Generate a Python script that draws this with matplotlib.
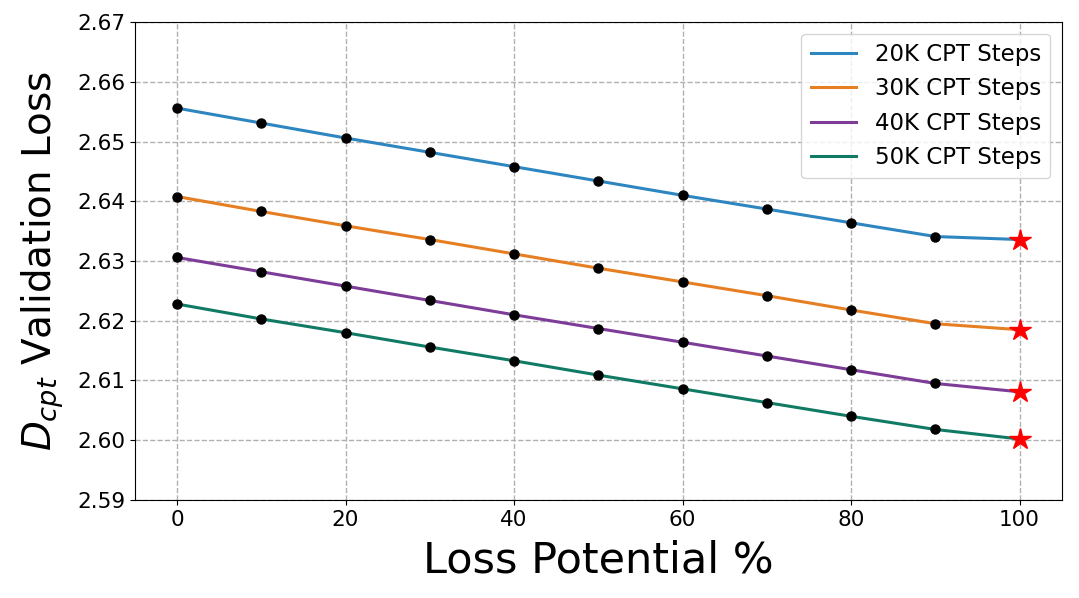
import matplotlib
matplotlib.use("Agg")
import matplotlib.pyplot as plt

# Loss potential (%) on the x axis
potential = [0, 10, 20, 30, 40, 50, 60, 70, 80, 90, 100]

# validation loss per CPT run
loss_20k = [2.6556, 2.6531, 2.6506, 2.6482, 2.6458, 2.6434, 2.6410, 2.6387, 2.6364, 2.6341, 2.6336]
loss_30k = [2.6408, 2.6383, 2.6359, 2.6336, 2.6312, 2.6288, 2.6265, 2.6242, 2.6218, 2.6195, 2.6185]
loss_40k = [2.6306, 2.6282, 2.6258, 2.6234, 2.6210, 2.6187, 2.6164, 2.6141, 2.6118, 2.6095, 2.6081]
loss_50k = [2.6228, 2.6203, 2.6180, 2.6156, 2.6133, 2.6109, 2.6086, 2.6063, 2.6040, 2.6018, 2.6002]

labels = ['20K CPT Steps', '30K CPT Steps', '40K CPT Steps', '50K CPT Steps']
colors = ['#2E86C1', '#E67E22', '#7D3C98', '#117A65']

fig = plt.figure(figsize=(10.79, 5.98), dpi=100)
ax = fig.add_axes([0.125, 0.164, 0.859, 0.799])

for loss, label, color in zip([loss_20k, loss_30k, loss_40k, loss_50k], labels, colors):
    ax.plot(potential, loss, color=color, linewidth=2.2, label=label, zorder=2)
    # black dots on every point but the last one, red star on the last
    ax.plot(potential[:-1], loss[:-1], 'o', color='black', markersize=6.5, zorder=3)
    ax.plot(potential[-1], loss[-1], '*', color='red', markersize=16, zorder=4)

ax.set_ylim(2.59, 2.67)
ax.set_xlim(-5, 105)
ax.set_xticks([0, 20, 40, 60, 80, 100])
ax.set_yticks([2.59, 2.60, 2.61, 2.62, 2.63, 2.64, 2.65, 2.66, 2.67])
ax.set_yticklabels(['2.59', '2.60', '2.61', '2.62', '2.63', '2.64', '2.65', '2.66', '2.67'])
ax.tick_params(labelsize=15.5)
ax.grid(True, linestyle='--', color='#b0b0b0', linewidth=1)
ax.set_axisbelow(True)

ax.set_xlabel('Loss Potential %', fontsize=31, labelpad=7)
ax.set_ylabel(r'$D_{cpt}$ Validation Loss', fontsize=28, labelpad=8)
ax.legend(loc='upper right', fontsize=16.5)

fig.savefig('out.png', dpi=100)
